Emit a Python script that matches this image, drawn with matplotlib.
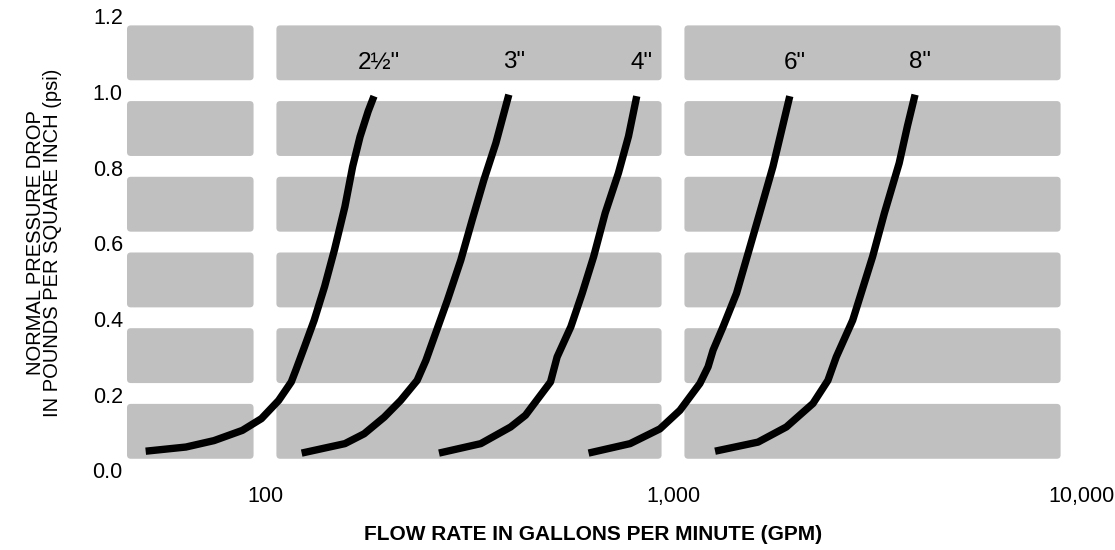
import numpy as np
import matplotlib
matplotlib.use('Agg')
import matplotlib.pyplot as plt
from matplotlib.patches import FancyBboxPatch

plt.rcParams['font.family'] = ['Liberation Sans', 'DejaVu Sans']

# pipe sizes and their curves (flow in gpm, pressure drop in psi)
sizes = ['2½"', '3"', '4"', '6"', '8"']

flow_25 = [51, 64, 75, 88, 98, 108, 116, 119, 125, 132, 140, 148, 157, 164, 171, 179, 185]
drop_25 = [0.051, 0.062, 0.079, 0.106, 0.137, 0.185, 0.234, 0.265, 0.327, 0.397,
           0.486, 0.583, 0.697, 0.803, 0.882, 0.949, 0.989]

flow_3 = [123, 157, 175, 196, 215, 236, 248, 260, 280, 302, 322, 344, 368, 396]
drop_3 = [0.046, 0.071, 0.097, 0.141, 0.185, 0.238, 0.291, 0.353, 0.450, 0.556,
          0.662, 0.768, 0.865, 0.993]

flow_4 = [267, 338, 400, 435, 501, 520, 562, 599, 639, 682, 735, 778, 815]
drop_4 = [0.046, 0.071, 0.115, 0.146, 0.234, 0.300, 0.380, 0.468, 0.565, 0.680,
          0.786, 0.883, 0.989]

flow_6 = [621, 785, 929, 1040, 1164, 1219, 1254, 1327, 1431, 1528, 1631, 1758, 1933]
drop_6 = [0.046, 0.071, 0.110, 0.159, 0.230, 0.274, 0.318, 0.380, 0.468, 0.574,
          0.680, 0.803, 0.989]

flow_8 = [1268, 1616, 1896, 2203, 2397, 2513, 2757, 3085, 3297, 3584, 3755, 3920]
drop_8 = [0.051, 0.075, 0.115, 0.177, 0.238, 0.300, 0.397, 0.565, 0.680, 0.812,
          0.910, 0.993]

curves = [(flow_25, drop_25), (flow_3, drop_3), (flow_4, drop_4),
          (flow_6, drop_6), (flow_8, drop_8)]

x_ticks = [100, 1000, 10000]
x_ticklabels = ['100', '1,000', '10,000']
y_ticks = [0.0, 0.2, 0.4, 0.6, 0.8, 1.0, 1.2]

W, H = 1115, 550
xmin, xmax = 45.9, 10000
ymax = 1.2

fig = plt.figure(figsize=(W / 100, H / 100), dpi=100)
ax = fig.add_axes([127 / W, (H - 470.5) / H, (1081 - 127) / W, 454.2 / H])
ax.set_xscale('log')
ax.set_xlim(xmin, xmax)
ax.set_ylim(0, ymax)

# grey rounded panels, split at each decade
lo, hi = np.log10(xmin), np.log10(xmax)
def fx(lv):
    return (lv - lo) / (hi - lo)
segs = [(lo, 2 - 0.028), (2.028, 2.972), (3.028, 3.95)]
for k in range(6):
    y0 = (k * 0.2 + 0.031) / ymax
    y1 = (k * 0.2 + 0.176) / ymax
    for a, b in segs:
        ax.add_patch(FancyBboxPatch((fx(a), y0), fx(b) - fx(a), y1 - y0,
                                    boxstyle='round,pad=0,rounding_size=0.004',
                                    mutation_aspect=954 / 454,
                                    transform=ax.transAxes, fc='#c0c0c0',
                                    ec='none', zorder=0))

for (fl, dr), name in zip(curves, sizes):
    ax.plot(fl, dr, color='black', lw=5.3, solid_capstyle='butt',
            solid_joinstyle='round', zorder=3)
    ax.annotate(name, xy=(fl[-1], dr[-1]), xytext=(5, 33),
                textcoords='offset pixels', ha='center', va='center',
                fontsize=17.5, color='black')

ax.set_xticks(x_ticks)
ax.set_xticklabels(x_ticklabels)
ax.xaxis.set_minor_locator(matplotlib.ticker.NullLocator())
ax.set_yticks(y_ticks)
ax.set_yticklabels(['%.1f' % v for v in y_ticks])
ax.tick_params(axis='x', length=0, pad=11, labelsize=15.5)
ax.tick_params(axis='y', length=0, pad=3, labelsize=15.5)
for s in ax.spines.values():
    s.set_visible(False)

fig.text(44 / W, 1 - 243 / H,
         'NORMAL PRESSURE DROP\nIN POUNDS PER SQUARE INCH (psi)',
         rotation=90, ha='center', va='center', multialignment='center',
         fontsize=14.5, linespacing=0.85)
fig.text(593 / W, 1 - 535 / H, 'FLOW RATE IN GALLONS PER MINUTE (GPM)',
         ha='center', va='center', fontsize=15, fontweight='bold')

fig.savefig('out.png', dpi=100)
